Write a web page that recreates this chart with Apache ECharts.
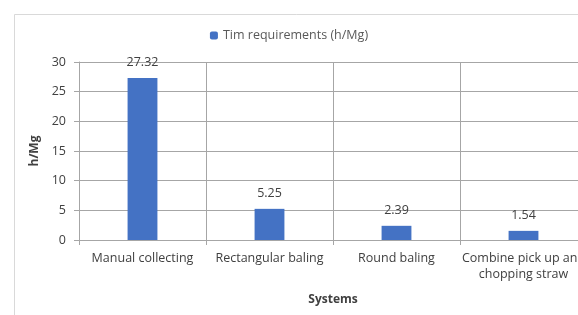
<!DOCTYPE html>
<html>
<head>
    <meta charset="UTF-8">
    <title>Time requirements</title>
    <script src="https://cdn.jsdelivr.net/npm/echarts/dist/echarts.min.js"></script>
    <style>
        body { margin: 0; background: #fff; }
        #main { width: 578px; height: 315px; }
    </style>
</head>
<body>
    <div id="main"></div>
    <script>
        var systems = ['Manual collecting', 'Rectangular baling', 'Round baling', 'Combine pick up and\nchopping straw'];
        var timeValues = [27.32, 5.25, 2.39, 1.54];
        var seriesName = 'Tim requirements (h/Mg)';

        var chartDom = document.getElementById('main');
        var myChart = echarts.init(chartDom);
        var font = '"Open Sans", sans-serif';

        var option = {
            backgroundColor: '#fff',
            textStyle: { fontFamily: font },
            graphic: [{
                type: 'rect',
                left: 12, top: 12,
                shape: { width: 620, height: 330 },
                style: { fill: 'none', stroke: '#d9d9d9', lineWidth: 1 },
                silent: true
            }],
            legend: {
                data: [seriesName],
                top: 24,
                left: 'center',
                itemWidth: 8,
                itemHeight: 8,
                itemGap: 5,
                textStyle: { color: '#595959', fontSize: 12.5, fontFamily: font }
            },
            grid: { left: 79, top: 62, width: 508, height: 178, outerBoundsMode: 'none', containLabel: false },
            xAxis: {
                type: 'category',
                data: systems,
                name: 'Systems',
                nameLocation: 'middle',
                nameGap: 54,
                nameTextStyle: { color: '#404040', fontWeight: 'bold', fontSize: 12 },
                axisLine: { lineStyle: { color: '#a6a6a6' } },
                axisTick: { show: true, length: 5, lineStyle: { color: '#a6a6a6' } },
                axisLabel: { color: '#404040', fontSize: 12.5, margin: 10, lineHeight: 16, interval: 0 },
                splitLine: { show: true, lineStyle: { color: '#a6a6a6' } }
            },
            yAxis: {
                type: 'value',
                min: 0,
                max: 30,
                interval: 5,
                name: 'h/Mg',
                nameLocation: 'middle',
                nameGap: 35,
                nameTextStyle: { color: '#404040', fontWeight: 'bold', fontSize: 12 },
                axisLine: { show: true, lineStyle: { color: '#a6a6a6' } },
                axisTick: { show: true, length: 5, lineStyle: { color: '#a6a6a6' } },
                axisLabel: { color: '#404040', fontSize: 12.5, margin: 13 },
                splitLine: { lineStyle: { color: '#a6a6a6' } }
            },
            series: [{
                name: seriesName,
                type: 'bar',
                data: timeValues,
                barWidth: '23.5%',
                itemStyle: { color: '#4472c4' },
                label: {
                    show: true,
                    position: 'top',
                    distance: 9,
                    color: '#404040',
                    fontSize: 12.5
                }
            }]
        };

        option && myChart.setOption(option);
    </script>
</body>
</html>
